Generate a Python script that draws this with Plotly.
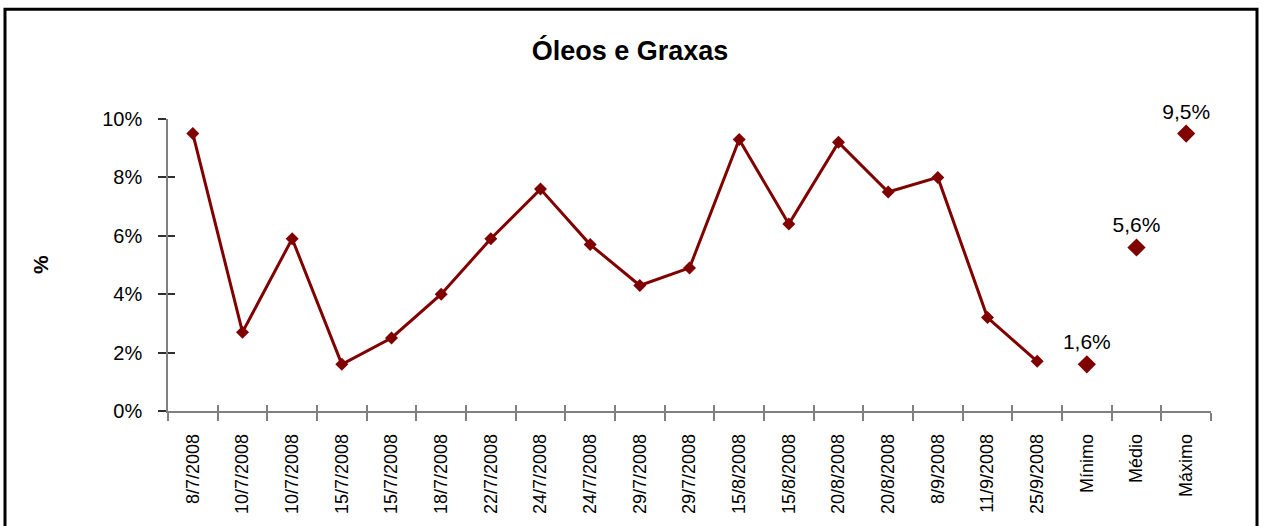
import plotly.graph_objects as go

# sample dates (duplicates kept as they appear) and summary categories
dates = ["8/7/2008", "10/7/2008", "10/7/2008", "15/7/2008", "15/7/2008",
         "18/7/2008", "22/7/2008", "24/7/2008", "24/7/2008", "29/7/2008",
         "29/7/2008", "15/8/2008", "15/8/2008", "20/8/2008", "20/8/2008",
         "8/9/2008", "11/9/2008", "25/9/2008"]
values = [9.5, 2.7, 5.9, 1.6, 2.5, 4.0, 5.9, 7.6, 5.7, 4.3,
          4.9, 9.3, 6.4, 9.2, 7.5, 8.0, 3.2, 1.7]

summary_labels = ["Mínimo", "Médio", "Máximo"]
summary_values = [1.6, 5.6, 9.5]

y_ticks = [0, 2, 4, 6, 8, 10]
y_ticktext = ["0%", "2%", "4%", "6%", "8%", "10%"]

categories = dates + summary_labels
pos = list(range(len(categories)))
n = len(categories)

RED = "#800000"
AXIS = "#808080"
FONT = "Liberation Sans, Arial, sans-serif"

W, H = 1264, 526

fig = go.Figure()

fig.add_trace(go.Scatter(
    x=pos[:len(dates)],
    y=values,
    mode="lines+markers",
    line=dict(color=RED, width=3),
    marker=dict(symbol="diamond", size=10, color=RED),
    showlegend=False,
    hoverinfo="skip",
))

fig.add_trace(go.Scatter(
    x=pos[len(dates):],
    y=summary_values,
    mode="markers+text",
    marker=dict(symbol="diamond", size=14, color=RED),
    texttemplate="%{y:.1f}%",
    textposition="top center",
    textfont=dict(family=FONT, size=21, color="black"),
    cliponaxis=False,
    showlegend=False,
    hoverinfo="skip",
))

# empty trace so the overlay axes (inside tick halves) get drawn
fig.add_trace(go.Scatter(x=[], y=[], xaxis="x2", yaxis="y2", showlegend=False))

half_ticks = [p - 0.5 for p in pos] + [n - 0.5]

fig.update_layout(
    width=W,
    height=H,
    margin=dict(l=168, r=53, t=119, b=112),
    paper_bgcolor="white",
    plot_bgcolor="white",
    separators=",.",
    font=dict(family=FONT, color="black"),
    title=dict(
        text="<b>Óleos e Graxas</b>",
        x=630 / W, xref="container", xanchor="center",
        y=1 - 51 / H, yref="container", yanchor="middle",
        font=dict(size=27, family=FONT, color="black"),
    ),
    xaxis=dict(
        range=[-0.5, n - 0.5],
        tickmode="array",
        tickvals=pos,
        ticktext=categories,
        tickangle=-90,
        ticks="",
        ticklabelstandoff=14,
        tickfont=dict(size=18, family=FONT, color="black"),
        showline=True, linecolor=AXIS, linewidth=1.5,
        showgrid=False, zeroline=False,
        minor=dict(ticks="outside", tickmode="array", tickvals=half_ticks,
                   ticklen=8, tickcolor=AXIS, tickwidth=1.5),
    ),
    xaxis2=dict(
        overlaying="x", anchor="y", side="bottom",
        range=[-0.5, n - 0.5],
        tickmode="array", tickvals=half_ticks,
        ticks="inside", ticklen=6, tickcolor=AXIS, tickwidth=1.5,
        showticklabels=False, showline=False, showgrid=False, zeroline=False,
    ),
    yaxis=dict(
        range=[0, 10],
        tickmode="array",
        tickvals=y_ticks,
        ticktext=y_ticktext,
        ticks="outside", ticklen=8, tickcolor="#303030", tickwidth=1.5,
        ticklabelstandoff=12,
        tickfont=dict(size=20, family=FONT, color="black"),
        showline=True, linecolor=AXIS, linewidth=1.5,
        showgrid=False, zeroline=False,
    ),
    yaxis2=dict(
        overlaying="y", anchor="x", side="left",
        range=[0, 10],
        tickmode="array", tickvals=y_ticks,
        ticks="inside", ticklen=7, tickcolor="#303030", tickwidth=1.5,
        showticklabels=False, showline=False, showgrid=False, zeroline=False,
    ),
    annotations=[dict(
        text="<b>%</b>", xref="paper", yref="paper",
        x=(40 - 168) / 1043, y=0.5, xanchor="center", yanchor="middle",
        textangle=-90, showarrow=False,
        font=dict(size=21, family=FONT, color="black"),
    )],
    shapes=[dict(
        type="rect", xref="paper", yref="paper",
        x0=(5 - 168) / 1043, x1=(1257 - 168) / 1043,
        y0=(414 - 560) / 295, y1=(414 - 8) / 295,
        line=dict(color="black", width=3), fillcolor="rgba(0,0,0,0)",
        layer="above",
    )],
)

# drop the default body margin so the figure sits at the page origin
fig.write_html("out.html", config={"displayModeBar": False},
               post_script="document.body.style.margin='0';")
